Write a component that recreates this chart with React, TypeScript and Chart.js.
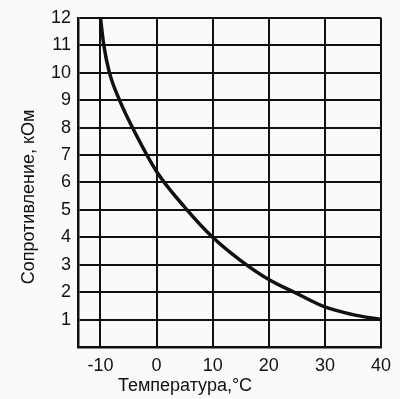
import React, { useEffect, useRef } from "react";
import { Chart, registerables } from "chart.js";

Chart.register(...registerables);

const temperatures = [-10, -9.4, -8.4, -6.6, -4.3, 0, 5, 10, 15, 20, 25, 30, 35, 40];
const resistance = [12, 11, 10, 9, 8, 6.4, 5.1, 4, 3.15, 2.46, 1.95, 1.46, 1.18, 1.0];
const xTicks = [-10, 0, 10, 20, 30, 40];
const yTicks = [1, 2, 3, 4, 5, 6, 7, 8, 9, 10, 11, 12];
const xTitle = "Температура,°C";
const yTitle = "Сопротивление, кОм";

const FONT = "'Liberation Sans', Arial, sans-serif";

export default function App() {
  const ref = useRef<HTMLCanvasElement | null>(null);
  useEffect(() => {
    document.body.style.margin = "0";
    const canvas = ref.current!;
    const titles = {
      id: "axisTitles",
      afterDraw(chart: any) {
        const { ctx } = chart;
        ctx.save();
        ctx.fillStyle = "#111";
        ctx.font = `18px ${FONT}`;
        ctx.textAlign = "center";
        ctx.textBaseline = "middle";
        ctx.fillText(xTitle, 185, 386);
        ctx.translate(29, 197);
        ctx.rotate(-Math.PI / 2);
        ctx.fillText(yTitle, 0, 0);
        ctx.restore();
      },
    };
    const chart = new Chart(canvas, {
      type: "line",
      data: {
        datasets: [
          {
            data: temperatures.map((t, i) => ({ x: t, y: resistance[i] })),
            borderColor: "#111",
            borderWidth: 3.5,
            pointRadius: 0,
            cubicInterpolationMode: "monotone",
            fill: false,
          },
        ],
      },
      options: {
        responsive: false,
        animation: false,
        layout: { padding: { left: 0, right: 19, top: 11, bottom: 0 } },
        plugins: { legend: { display: false }, tooltip: { enabled: false } },
        scales: {
          x: {
            type: "linear",
            min: -14,
            max: 40,
            afterBuildTicks: (s: any) => {
              s.ticks = xTicks.map((v) => ({ value: v }));
            },
            afterFit: (s: any) => {
              s.height = 52;
            },
            grid: { color: "#111", lineWidth: 2, drawTicks: false },
            border: { color: "#111", width: 2.5 },
            ticks: {
              color: "#111",
              font: { family: FONT, size: 18 },
              padding: 8,
              maxRotation: 0,
              autoSkip: false,
            },
          },
          y: {
            type: "linear",
            min: 0,
            max: 12,
            afterBuildTicks: (s: any) => {
              s.ticks = [0, ...yTicks].map((v) => ({ value: v }));
            },
            afterFit: (s: any) => {
              s.width = 78;
            },
            grid: { color: "#111", lineWidth: 2, drawTicks: false },
            border: { color: "#111", width: 2.5 },
            ticks: {
              color: "#111",
              font: { family: FONT, size: 18 },
              padding: 7,
              autoSkip: false,
              callback: (v: any) => (v === 0 ? "" : String(v)),
            },
          },
        },
      },
      plugins: [titles],
    });
    return () => chart.destroy();
  }, []);
  return (
    <div style={{ width: 400, height: 399, background: "#fafafa" }}>
      <canvas ref={ref} width={400} height={399} />
    </div>
  );
}
